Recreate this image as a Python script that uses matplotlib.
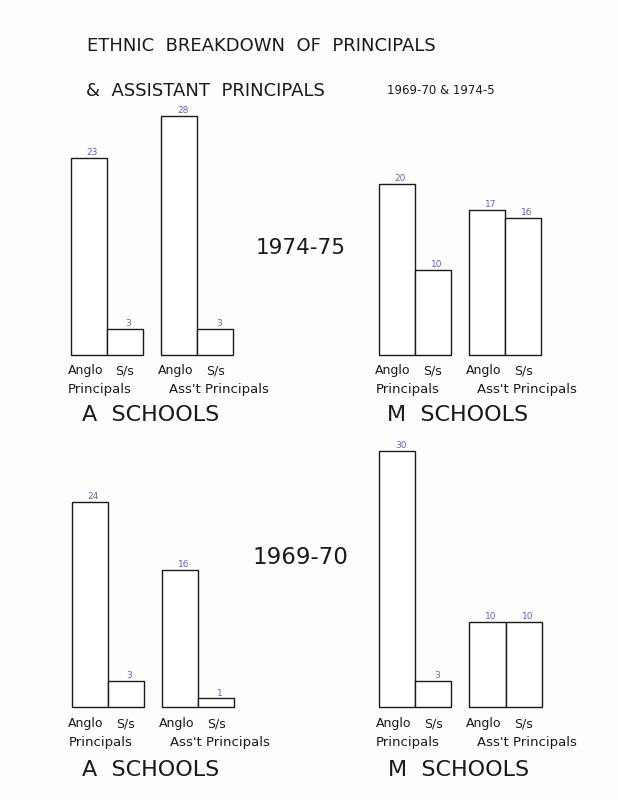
import matplotlib.pyplot as plt

# values (Anglo, S/s)
cats = ['Anglo', 'S/s']
a_7475_prin = [23, 3]
a_7475_asst = [28, 3]
m_7475_prin = [20, 10]
m_7475_asst = [17, 16]
a_6970_prin = [24, 3]
a_6970_asst = [16, 1]
m_6970_prin = [30, 3]
m_6970_asst = [10, 10]

ink = '#1a1a1a'
blue = '#6464b4'

fig = plt.figure(figsize=(6.18, 8), dpi=100)
fig.patch.set_facecolor('#fdfdfb')

W = 4.5 * 36.15 / 618
H = 32 * 8.55 / 800


def panel(left, bottom, prin, asst, school, lab_dy):
    ax = fig.add_axes([left, bottom, W, H])
    ax.set_xlim(0, 4.5)
    ax.set_ylim(0, 32)
    ax.axis('off')
    xs = [0, 1, 2.5, 3.5]
    vals = prin + asst
    bars = ax.bar(xs, vals, width=1, align='edge', color='white', edgecolor=ink,
                  linewidth=1.0)
    for b in bars:
        b.set_clip_on(False)
    for x, v in zip(xs, vals):
        ax.text(x + 0.6, v + 0.1, str(v), ha='center', va='bottom', fontsize=6.5,
                color=blue)
    for x, c in zip(xs, cats * 2):
        off = -0.1 if c == 'Anglo' else 0.0
        ax.text(x + 0.5 + off, -1.85 - lab_dy, c, ha='center', va='center',
                fontsize=9, color=ink, clip_on=False)
    ax.text(0.8, -4.0 - lab_dy * 2, 'Principals', ha='center', va='center',
            fontsize=9.5, color=ink, clip_on=False)
    ax.text(4.1, -4.0 - lab_dy * 2, "Ass't Principals", ha='center', va='center',
            fontsize=9.5, color=ink, clip_on=False)
    ax.text(2.2, -7.0 - lab_dy * 4, school, ha='center', va='center',
            fontsize=16, color=ink, clip_on=False)
    return ax


panel(70.7 / 618, (800 - 355) / 800, a_7475_prin, a_7475_asst, 'A  SCHOOLS', 0)
panel(378.5 / 618, (800 - 355) / 800, m_7475_prin, m_7475_asst, 'M  SCHOOLS', 0)
panel(71.5 / 618, (800 - 707) / 800, a_6970_prin, a_6970_asst, 'A  SCHOOLS', 0.1)
panel(379 / 618, (800 - 707) / 800, m_6970_prin, m_6970_asst, 'M  SCHOOLS', 0.1)

# headings
fig.text(261 / 618, 1 - 46 / 800, 'ETHNIC  BREAKDOWN  OF  PRINCIPALS', ha='center',
         va='center', fontsize=13, color=ink)
fig.text(86 / 618, 1 - 91 / 800, '&  ASSISTANT  PRINCIPALS', ha='left', va='center',
         fontsize=13, color=ink)
fig.text(387 / 618, 1 - 91 / 800, '1969-70 & 1974-5', ha='left', va='center',
         fontsize=8.5, color=ink)
fig.text(301 / 618, 1 - 248 / 800, '1974-75', ha='center', va='center',
         fontsize=15.5, color=ink)
fig.text(300.5 / 618, 1 - 558 / 800, '1969-70', ha='center', va='center',
         fontsize=16.5, color=ink)

fig.savefig('out.png', dpi=100, facecolor=fig.get_facecolor())
